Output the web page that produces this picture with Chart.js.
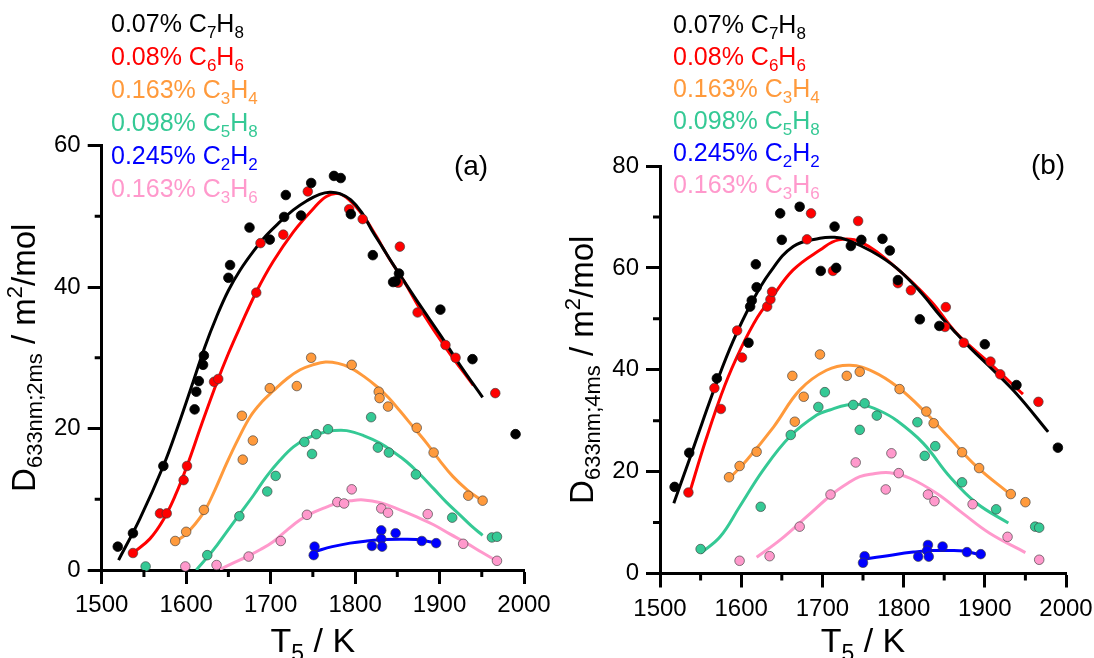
<!DOCTYPE html>
<html>
<head>
<meta charset="utf-8">
<script src="https://cdn.jsdelivr.net/npm/chart.js@4.4.0/dist/chart.umd.min.js"></script>
<style>
  body { margin: 0; background: #fff; }
  #wrap { position: relative; width: 1094px; height: 658px; }
  canvas { position: absolute; top: 0; }
  #ca { left: 0; }
  #cb { left: 560px; }
</style>
</head>
<body>
<div id="wrap">
  <canvas id="ca" width="560" height="658"></canvas>
  <canvas id="cb" width="534" height="658"></canvas>
</div>
<script>
const FONT = "'Liberation Sans', Arial, sans-serif";

// legend entries: [percent text, C count, H count]
const species = ['C7H8', 'C6H6', 'C3H4', 'C5H8', 'C2H2', 'C3H6'];
const legendPct = ['0.07%', '0.08%', '0.163%', '0.098%', '0.245%', '0.163%'];
const legendC = ['7', '6', '3', '5', '2', '3'];
const legendH = ['8', '6', '4', '8', '2', '6'];
const colors = ['#000000', '#ff0000', '#ff9a3c', '#35c995', '#0000ff', '#ff99cc'];

const xTicks = [1500, 1600, 1700, 1800, 1900, 2000];
const xMinor = [1550, 1650, 1750, 1850, 1950];

// ---------- panel (a), 2 ms ----------
const a_C7H8_T = [1519, 1537, 1573, 1610, 1612, 1615, 1620, 1621, 1650, 1652, 1675, 1699, 1716, 1718, 1736, 1748, 1775, 1783, 1795, 1821, 1845, 1848, 1852, 1901, 1939, 1990];
const a_C7H8_D = [3.3, 5.2, 14.7, 22.7, 25.2, 26.7, 29.0, 30.3, 41.3, 43.1, 48.4, 46.7, 49.9, 53.0, 50.1, 54.7, 55.7, 55.4, 50.3, 44.5, 40.7, 40.8, 41.9, 36.8, 29.8, 19.2];
const a_C6H6_T = [1537, 1569, 1577, 1597, 1601, 1633, 1638, 1683, 1688, 1715, 1744, 1793, 1809, 1853, 1851, 1874, 1907, 1919, 1966];
const a_C6H6_D = [2.4, 8.0, 8.0, 12.7, 14.7, 26.6, 27.0, 39.2, 46.2, 47.4, 53.5, 51.0, 49.6, 45.7, 40.6, 36.4, 31.8, 30.0, 25.0];
const a_C3H4_T = [1587, 1600, 1621, 1666, 1667, 1679, 1699, 1731, 1748, 1796, 1828, 1829, 1839, 1873, 1893, 1934, 1951];
const a_C3H4_D = [4.1, 5.4, 8.5, 21.8, 15.6, 18.3, 25.7, 26.0, 30.0, 29.0, 25.2, 24.3, 23.1, 20.1, 16.6, 10.5, 9.8];
const a_C5H8_T = [1552, 1625, 1663, 1696, 1706, 1740, 1749, 1754, 1768, 1819, 1827, 1840, 1872, 1915, 1962, 1968];
const a_C5H8_D = [0.5, 2.1, 7.6, 11.1, 13.3, 18.1, 16.4, 19.2, 19.9, 21.6, 17.3, 16.6, 13.5, 7.4, 4.6, 4.7];
const a_C2H2_T = [1752, 1751, 1820, 1831, 1831, 1832, 1848, 1879, 1896];
const a_C2H2_D = [3.3, 2.1, 3.4, 5.6, 4.4, 3.3, 5.2, 4.1, 3.8];
const a_C3H6_T = [1599, 1636, 1674, 1712, 1743, 1779, 1787, 1796, 1831, 1839, 1886, 1928, 1968];
const a_C3H6_D = [0.5, 0.7, 1.9, 4.1, 7.8, 9.6, 9.4, 11.4, 8.7, 8.1, 7.9, 3.7, 1.3];

// fitted curves
const a_C7H8_fitT = [1520, 1545, 1573, 1590, 1608, 1622, 1636, 1650, 1664, 1680, 1695, 1711, 1727, 1743, 1758, 1770, 1782, 1795, 1808, 1820, 1833, 1845, 1857, 1877, 1901, 1924, 1951];
const a_C7H8_fitD = [1.4, 7.2, 14.7, 20.2, 26.5, 31.5, 35.8, 39.5, 42.4, 45.1, 47.3, 49.2, 50.9, 52.2, 53.1, 53.4, 53.2, 52.3, 50.5, 48.0, 45.5, 43.2, 41.0, 37.4, 33.2, 29.0, 24.4];
const a_C6H6_fitT = [1537, 1557, 1573, 1587, 1601, 1618, 1636, 1650, 1664, 1683, 1703, 1727, 1750, 1766, 1780, 1793, 1810, 1825, 1840, 1857, 1877, 1908, 1940];
const a_C6H6_fitD = [2.4, 4.4, 7.1, 10.5, 14.7, 20.5, 26.4, 30.6, 34.4, 39.3, 43.6, 47.8, 51.0, 52.8, 53.2, 52.3, 50.0, 47.2, 44.1, 41.0, 36.9, 31.3, 26.1];
const a_C3H4_fitT = [1587, 1600, 1620, 1634, 1648, 1662, 1676, 1690, 1703, 1720, 1735, 1750, 1765, 1780, 1794, 1810, 1826, 1840, 1853, 1869, 1885, 1900, 1916, 1933, 1950];
const a_C3H4_fitD = [4.0, 5.1, 8.0, 11.3, 15.1, 18.6, 21.7, 23.8, 25.3, 27.1, 28.3, 29.0, 29.4, 29.2, 28.6, 27.4, 25.9, 24.3, 22.5, 20.2, 17.9, 15.5, 13.2, 11.3, 9.8];
const a_C5H8_fitT = [1612, 1632, 1648, 1664, 1680, 1695, 1711, 1727, 1743, 1758, 1775, 1790, 1810, 1830, 1845, 1861, 1877, 1893, 1908, 1924, 1938, 1951];
const a_C5H8_fitD = [0.0, 2.8, 5.4, 8.0, 10.6, 13.2, 15.5, 17.4, 18.6, 19.3, 19.7, 19.7, 19.0, 17.9, 16.7, 15.3, 13.5, 11.5, 9.6, 7.8, 6.2, 4.9];
const a_C2H2_fitT = [1752, 1773, 1794, 1814, 1834, 1853, 1873, 1897];
const a_C2H2_fitD = [2.6, 3.3, 3.8, 4.1, 4.3, 4.35, 4.3, 3.8];
const a_C3H6_fitT = [1640, 1656, 1672, 1688, 1703, 1719, 1735, 1750, 1766, 1780, 1795, 1810, 1830, 1853, 1873, 1893, 1912, 1932, 1950, 1966];
const a_C3H6_fitD = [0.1, 1.0, 1.9, 2.9, 4.0, 5.6, 7.1, 8.1, 8.9, 9.5, 9.8, 9.9, 9.5, 8.5, 7.5, 6.4, 5.1, 3.8, 2.5, 1.4];

// ---------- panel (b), 4 ms ----------
const b_C7H8_T = [1518, 1536, 1570, 1609, 1611, 1613, 1619, 1618, 1648, 1650, 1672, 1698, 1715, 1717, 1735, 1748, 1774, 1783, 1793, 1820, 1844, 1900, 1939, 1990];
const b_C7H8_D = [17.0, 23.7, 38.3, 45.3, 52.4, 53.6, 56.2, 60.7, 70.7, 65.5, 72.0, 59.4, 68.1, 60.0, 64.3, 65.5, 65.7, 63.4, 57.6, 49.9, 48.6, 45.0, 37.0, 24.7];
const b_C6H6_T = [1535, 1567, 1575, 1595, 1601, 1632, 1636, 1638, 1681, 1686, 1713, 1744, 1793, 1809, 1852, 1851, 1874, 1907, 1919, 1966];
const b_C6H6_D = [15.9, 36.4, 32.3, 47.7, 42.4, 52.4, 53.8, 55.3, 65.6, 70.7, 59.4, 69.2, 57.0, 55.6, 52.3, 48.4, 45.3, 41.6, 39.1, 33.7];
const b_C3H4_T = [1585, 1598, 1619, 1663, 1666, 1677, 1697, 1730, 1746, 1795, 1828, 1837, 1872, 1893, 1932, 1950];
const b_C3H4_D = [18.9, 21.1, 23.9, 38.8, 29.8, 34.7, 43.0, 38.8, 39.6, 36.2, 31.8, 29.5, 23.8, 20.7, 15.6, 14.0];
const b_C5H8_T = [1550, 1624, 1661, 1695, 1703, 1738, 1746, 1752, 1767, 1817, 1826, 1839, 1872, 1914, 1962, 1967];
const b_C5H8_D = [4.8, 13.1, 27.2, 32.7, 35.6, 33.1, 28.2, 33.4, 31.0, 29.7, 23.1, 25.0, 17.9, 12.6, 9.2, 9.0];
const b_C2H2_T = [1752, 1750, 1818, 1830, 1829, 1831, 1848, 1878, 1895];
const b_C2H2_D = [3.4, 2.1, 3.3, 5.6, 4.5, 3.3, 5.3, 4.2, 3.8];
const b_C3H6_T = [1598, 1635, 1672, 1710, 1741, 1785, 1778, 1794, 1830, 1838, 1885, 1928, 1967];
const b_C3H6_D = [2.5, 3.4, 9.2, 15.5, 21.8, 23.6, 16.5, 19.7, 15.5, 14.2, 13.6, 7.2, 2.7];

// fitted curves
const b_C7H8_fitT = [1517, 1536, 1552, 1570, 1590, 1612, 1635, 1664, 1697, 1715, 1730, 1760, 1791, 1820, 1846, 1861, 1882, 1906, 1939, 1978];
const b_C7H8_fitD = [13.8, 22.3, 29.6, 37.6, 45.6, 52.9, 59.0, 64.2, 65.8, 66.0, 65.5, 63.3, 60.0, 55.4, 50.4, 47.8, 44.3, 40.6, 35.3, 27.8];
const b_C6H6_fitT = [1535, 1557, 1580, 1600, 1620, 1636, 1664, 1697, 1720, 1748, 1791, 1834, 1865, 1906, 1947];
const b_C6H6_fitD = [15.1, 26.5, 37.0, 44.3, 50.3, 53.8, 59.6, 63.5, 65.5, 65.0, 60.0, 53.4, 47.2, 41.3, 35.2];
const b_C3H4_fitT = [1584, 1607, 1640, 1672, 1705, 1734, 1763, 1792, 1824, 1857, 1890, 1931];
const b_C3H4_fitD = [18.4, 22.3, 28.8, 36.0, 39.9, 40.9, 39.6, 36.7, 32.1, 26.5, 21.0, 15.6];
const b_C5H8_fitT = [1550, 1574, 1598, 1627, 1660, 1693, 1709, 1730, 1750, 1770, 1791, 1824, 1857, 1890, 1929];
const b_C5H8_fitD = [4.0, 7.2, 13.1, 20.3, 26.9, 31.1, 32.1, 33.1, 33.1, 32.0, 30.1, 25.6, 19.0, 13.8, 9.9];
const b_C2H2_fitT = [1752, 1792, 1812, 1832, 1853, 1874, 1896];
const b_C2H2_fitD = [2.8, 3.8, 4.2, 4.5, 4.5, 4.4, 3.6];
const b_C3H6_fitT = [1619, 1648, 1681, 1713, 1734, 1746, 1759, 1783, 1808, 1841, 1873, 1906, 1950];
const b_C3H6_fitD = [3.2, 6.6, 11.2, 15.7, 18.0, 19.0, 19.5, 19.8, 18.7, 15.7, 11.8, 7.9, 4.1];

function zip(xs, ys) {
    return xs.map((x, i) => ({x: x, y: ys[i]}));
}

// draws text made of pieces with their own size and vertical shift
function richWidth(ctx, parts) {
    let w = 0;
    for (const p of parts) {
        ctx.font = p.size + 'px ' + FONT;
        w += ctx.measureText(p.t).width;
    }
    return w;
}
function drawRich(ctx, parts, x, y, color) {
    ctx.fillStyle = color;
    ctx.textBaseline = 'alphabetic';
    ctx.textAlign = 'left';
    for (const p of parts) {
        ctx.font = p.size + 'px ' + FONT;
        ctx.fillText(p.t, x, y + (p.dy || 0));
        x += ctx.measureText(p.t).width;
    }
}

const decorPlugin = {
    id: 'decor',
    afterDraw(chart, args, opts) {
        const ctx = chart.ctx;
        const area = chart.chartArea;
        const xs = chart.scales.x, ys = chart.scales.y;
        ctx.save();

        // minor ticks
        ctx.strokeStyle = '#000';
        ctx.lineWidth = 3;
        ctx.beginPath();
        for (const v of xMinor) {
            const px = xs.getPixelForValue(v);
            ctx.moveTo(px, area.bottom);
            ctx.lineTo(px, area.bottom + 7);
        }
        for (const v of opts.yMinor) {
            const py = ys.getPixelForValue(v);
            ctx.moveTo(area.left, py);
            ctx.lineTo(area.left - 7, py);
        }
        ctx.stroke();

        // legend text
        for (let i = 0; i < species.length; i++) {
            const parts = [
                {t: legendPct[i] + ' C', size: 25},
                {t: legendC[i], size: 17, dy: 6},
                {t: 'H', size: 25},
                {t: legendH[i], size: 17, dy: 6}
            ];
            drawRich(ctx, parts, opts.legendX, opts.legendY + i * opts.legendStep, colors[i]);
        }

        // panel label
        ctx.font = '28px ' + FONT;
        ctx.fillStyle = '#000';
        ctx.textAlign = 'center';
        ctx.textBaseline = 'middle';
        ctx.fillText(opts.panel, opts.panelX, opts.panelY);

        // x title
        const xt = [
            {t: 'T', size: 34},
            {t: '5', size: 23, dy: 9},
            {t: ' / K', size: 34}
        ];
        const xw = richWidth(ctx, xt);
        drawRich(ctx, xt, (area.left + area.right) / 2 - xw / 2, 652, '#000');

        // y title (rotated)
        const yt = [
            {t: 'D', size: 33},
            {t: '633nm;' + opts.time, size: 22, dy: 7},
            {t: ' / m', size: 33},
            {t: '2', size: 22, dy: -13},
            {t: '/mol', size: 33}
        ];
        const yw = richWidth(ctx, yt);
        ctx.translate(area.left - 67, (area.top + area.bottom) / 2);
        ctx.rotate(-Math.PI / 2);
        drawRich(ctx, yt, -yw / 2, 0, '#000');
        ctx.restore();
    }
};

function buildDatasets(pts, fits) {
    const ds = [];
    pts.forEach((p, i) => {
        ds.push({
            data: zip(p[0], p[1]),
            showLine: false,
            pointRadius: 4.8,
            pointBackgroundColor: colors[i],
            pointBorderColor: i === 0 ? '#000' : 'rgba(60,60,60,0.8)',
            pointBorderWidth: 0.8,
            clip: false
        });
    });
    fits.forEach((f, i) => {
        ds.push({
            data: zip(f[0], f[1]),
            showLine: true,
            pointRadius: 0,
            borderColor: colors[i],
            borderWidth: 3,
            tension: 0.4,
            fill: false
        });
    });
    return ds;
}

function makeChart(canvas, cfg) {
    return new Chart(canvas, {
        type: 'scatter',
        data: {datasets: buildDatasets(cfg.pts, cfg.fits)},
        options: {
            responsive: false,
            animation: false,
            events: [],
            layout: {padding: {left: 0, right: cfg.padRight, top: cfg.top, bottom: 0}},
            plugins: {
                legend: {display: false},
                tooltip: {enabled: false},
                decor: cfg.decor
            },
            scales: {
                x: {
                    type: 'linear', min: 1500, max: 2000,
                    border: {display: true, width: 3, color: '#000'},
                    grid: {drawOnChartArea: false, tickLength: 14, tickWidth: 3, tickColor: '#000'},
                    afterBuildTicks: s => { s.ticks = xTicks.map(v => ({value: v})); },
                    ticks: {padding: 7, color: '#000', maxRotation: 0, autoSkip: false,
                        font: {family: FONT, size: 24}, callback: v => String(v)},
                    afterFit: s => { s.height = cfg.xH; s.paddingLeft = 0; s.paddingRight = 0; }
                },
                y: {
                    type: 'linear', min: 0, max: cfg.yMax,
                    border: {display: true, width: 3, color: '#000'},
                    grid: {drawOnChartArea: false, tickLength: 14, tickWidth: 3, tickColor: '#000'},
                    afterBuildTicks: s => { s.ticks = cfg.yTicks.map(v => ({value: v})); },
                    ticks: {padding: 7, color: '#000', font: {family: FONT, size: 24}, callback: v => String(v)},
                    afterFit: s => { s.width = cfg.yW; s.paddingTop = 0; s.paddingBottom = 0; }
                }
            }
        },
        plugins: [decorPlugin]
    });
}

makeChart(document.getElementById('ca'), {
    pts: [[a_C7H8_T, a_C7H8_D], [a_C6H6_T, a_C6H6_D], [a_C3H4_T, a_C3H4_D], [a_C5H8_T, a_C5H8_D], [a_C2H2_T, a_C2H2_D], [a_C3H6_T, a_C3H6_D]],
    fits: [[a_C7H8_fitT, a_C7H8_fitD], [a_C6H6_fitT, a_C6H6_fitD], [a_C3H4_fitT, a_C3H4_fitD], [a_C5H8_fitT, a_C5H8_fitD], [a_C2H2_fitT, a_C2H2_fitD], [a_C3H6_fitT, a_C3H6_fitD]],
    yMax: 60, yTicks: [0, 20, 40, 60],
    top: 145.5, padRight: 36, xH: 88, yW: 101.7,
    decor: {yMinor: [10, 30, 50], legendX: 111, legendY: 32, legendStep: 33,
        panel: '(a)', panelX: 471, panelY: 167, time: '2ms'}
});

makeChart(document.getElementById('cb'), {
    pts: [[b_C7H8_T, b_C7H8_D], [b_C6H6_T, b_C6H6_D], [b_C3H4_T, b_C3H4_D], [b_C5H8_T, b_C5H8_D], [b_C2H2_T, b_C2H2_D], [b_C3H6_T, b_C3H6_D]],
    fits: [[b_C7H8_fitT, b_C7H8_fitD], [b_C6H6_fitT, b_C6H6_fitD], [b_C3H4_fitT, b_C3H4_fitD], [b_C5H8_fitT, b_C5H8_fitD], [b_C2H2_fitT, b_C2H2_fitD], [b_C3H6_fitT, b_C3H6_fitD]],
    yMax: 80, yTicks: [0, 20, 40, 60, 80],
    top: 166, padRight: 28, xH: 84.5, yW: 100,
    decor: {yMinor: [10, 30, 50, 70], legendX: 113, legendY: 33, legendStep: 32,
        panel: '(b)', panelX: 488, panelY: 166, time: '4ms'}
});
</script>
</body>
</html>
